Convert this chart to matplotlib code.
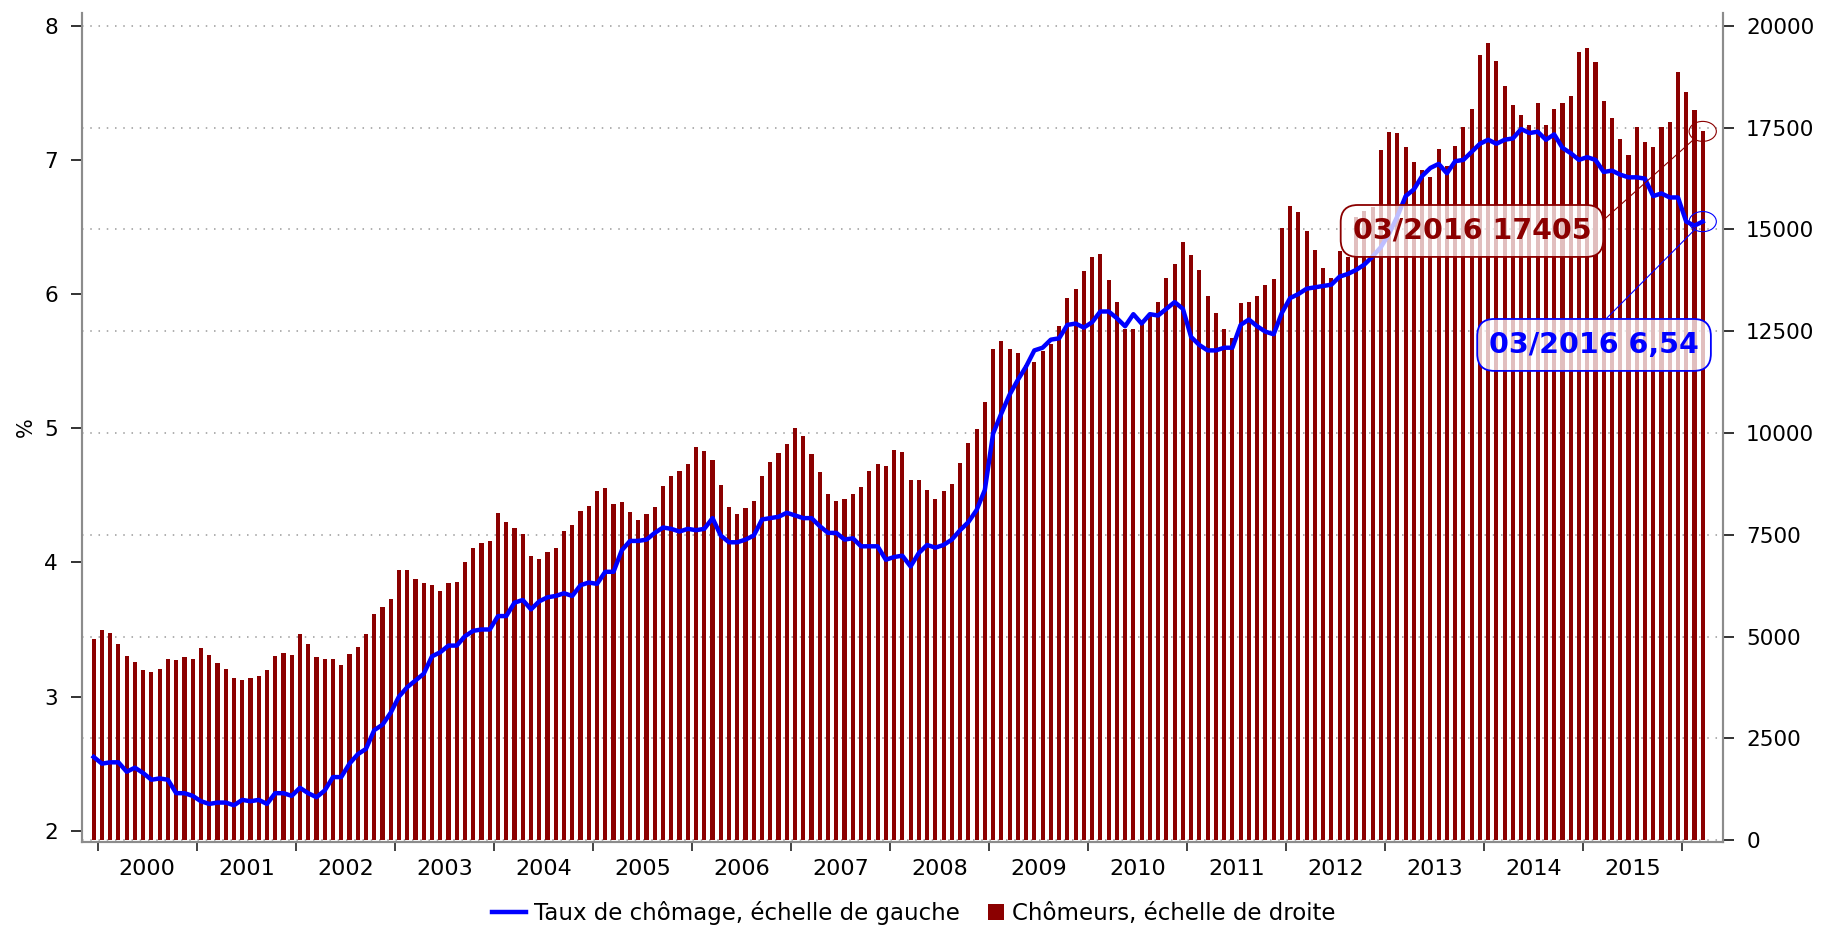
import matplotlib
matplotlib.use('Agg')
import matplotlib.pyplot as plt
import numpy as np
import pandas as pd
from matplotlib.lines import Line2D
from matplotlib.patches import Patch, Rectangle, Ellipse
from matplotlib.legend_handler import HandlerPatch

# monthly data, Dec 1999 -> Mar 2016
months = pd.period_range('1999-12', '2016-03', freq='M')

# Chômeurs (right axis)
chomeurs = [
    4942, 5163, 5082, 4827, 4517, 4377, 4181, 4139, 4205, 4443, 4419, 4493,
    4459, 4721, 4557, 4345, 4198, 3977, 3935, 3977, 4034, 4173, 4533, 4607,
    4557, 5073, 4819, 4493, 4443, 4443, 4312, 4574, 4746, 5057, 5564, 5736,
    5933, 6628, 6628, 6415, 6309, 6268, 6113, 6309, 6342, 6832, 7176, 7291,
    7340, 8028, 7822, 7667, 7528, 6980, 6898, 7086, 7168, 7593, 7749, 8084,
    8215, 8575, 8641, 8256, 8305, 8068, 7871, 8003, 8190, 8698, 8936, 9066,
    9238, 9663, 9550, 9329, 8715, 8183, 8011, 8151, 8322, 8944, 9287, 9501,
    9729, 10115, 9926, 9484, 9042, 8502, 8337, 8379, 8509, 8674, 9074, 9231,
    9189, 9582, 9533, 8853, 8853, 8593, 8379, 8575, 8740, 9255, 9746, 10097,
    10768, 12061, 12266, 12054, 11956, 11669, 11742, 12012, 12177, 12634, 13306, 13534,
    13976, 14327, 14386, 13748, 13208, 12552, 12560, 12692, 12938, 13215, 13797, 14148,
    14681, 14362, 14001, 13370, 12945, 12552, 12324, 13191, 13215, 13363, 13633, 13780,
    15025, 15565, 15417, 14958, 14485, 14050, 13804, 14460, 14327, 15300, 15450, 15560,
    16954, 17396, 17357, 17020, 16645, 16456, 16284, 16979, 16562, 17052, 17512, 17961,
    19279, 19566, 19139, 18525, 18052, 17799, 17568, 18093, 17561, 17946, 18108, 18265,
    19353, 19458, 19100, 18142, 17725, 17217, 16824, 17519, 17143, 17020, 17519, 17634,
    18862, 18363, 17936, 17405,
]

# Taux de chômage (left axis)
taux = [
    2.55, 2.50, 2.51, 2.51, 2.44, 2.47, 2.43, 2.38, 2.39, 2.38, 2.28, 2.28,
    2.26, 2.22, 2.20, 2.21, 2.21, 2.19, 2.23, 2.22, 2.23, 2.20, 2.28, 2.28,
    2.26, 2.32, 2.28, 2.25, 2.30, 2.40, 2.40, 2.50, 2.57, 2.61, 2.75, 2.79,
    2.88, 3.00, 3.07, 3.12, 3.17, 3.30, 3.33, 3.38, 3.38, 3.45, 3.49, 3.50,
    3.50, 3.60, 3.60, 3.70, 3.72, 3.65, 3.71, 3.74, 3.75, 3.77, 3.75, 3.83,
    3.85, 3.84, 3.93, 3.93, 4.09, 4.16, 4.16, 4.17, 4.22, 4.26, 4.25, 4.23,
    4.25, 4.24, 4.25, 4.33, 4.20, 4.15, 4.15, 4.17, 4.20, 4.32, 4.33, 4.34,
    4.37, 4.35, 4.33, 4.33, 4.27, 4.22, 4.22, 4.17, 4.18, 4.12, 4.12, 4.12,
    4.02, 4.04, 4.05, 3.97, 4.07, 4.13, 4.11, 4.13, 4.17, 4.24, 4.30, 4.39,
    4.54, 4.96, 5.11, 5.25, 5.36, 5.46, 5.58, 5.60, 5.66, 5.67, 5.77, 5.78,
    5.75, 5.79, 5.87, 5.87, 5.82, 5.76, 5.85, 5.78, 5.85, 5.84, 5.89, 5.94,
    5.89, 5.68, 5.62, 5.58, 5.58, 5.60, 5.60, 5.77, 5.81, 5.76, 5.72, 5.70,
    5.86, 5.97, 6.00, 6.04, 6.05, 6.06, 6.07, 6.13, 6.15, 6.18, 6.22, 6.28,
    6.35, 6.45, 6.58, 6.73, 6.78, 6.88, 6.94, 6.97, 6.90, 6.99, 7.00, 7.06,
    7.12, 7.15, 7.12, 7.15, 7.16, 7.23, 7.20, 7.21, 7.15, 7.19, 7.09, 7.05,
    7.00, 7.02, 7.00, 6.91, 6.92, 6.89, 6.87, 6.87, 6.86, 6.73, 6.75, 6.72,
    6.72, 6.54, 6.51, 6.54,
]

RED = '#8b0000'
BLUE = '#0000ff'
GREY = '#8c8c8c'


class SquareHandler(HandlerPatch):
    # square drawn at the right end of the handle box
    def create_artists(self, legend, orig_handle, xdescent, ydescent,
                       width, height, fontsize, trans):
        s = height * 1.0
        p = Rectangle((-xdescent + width - s, -ydescent + (height - s) / 2), s, s,
                      facecolor=orig_handle.get_facecolor(), edgecolor='none',
                      transform=trans)
        return [p]


x = np.arange(len(months))

fig = plt.figure(figsize=(18.21, 9.26), dpi=100)
ax = fig.add_axes([0.04487, 0.0904, 0.90105, 0.8959])

# bars on the right-hand scale
ax.bar(x, chomeurs, width=0.5, color=RED, zorder=2)
ax.set_axisbelow(True)
ax.grid(axis='y', color='#9a9a9a', linestyle=(0, (1, 4.4)), linewidth=1.1)

ax2 = ax.twinx()
ax.yaxis.tick_right()
ax2.yaxis.tick_left()
ax2.yaxis.set_label_position('left')

# line on the left-hand scale
ax2.plot(x, taux, color=BLUE, lw=3.2, solid_joinstyle='round', zorder=3)

ax.set_xlim(-1.45, 197.4)
ax.set_ylim(-49, 20319)
ax2.set_ylim(1.914, 8.097)
ax.set_yticks(np.arange(0, 20001, 2500))
ax2.set_yticks(np.arange(2, 9))
ax2.set_ylabel('%', fontsize=15, labelpad=6)

# year boundaries as ticks, year names centred in between
jan = [i for i, m in enumerate(months) if m.month == 1]
ax.set_xticks([i - 0.5 for i in jan])
ax.set_xticklabels([])
full_years = [i for i in jan if i + 11 < len(months)]
ax.set_xticks([i + 5.5 for i in full_years], minor=True)
ax.set_xticklabels([str(months[i].year) for i in full_years], minor=True)
ax.tick_params(axis='x', which='major', length=6.5, width=1.3, color='#333333')
ax.tick_params(axis='x', which='minor', length=0, pad=12, labelsize=16)
ax.tick_params(axis='y', length=8, width=1.3, color='#222222', pad=9, labelsize=15.5)
ax2.tick_params(axis='y', length=8, width=1.3, color='#222222', pad=9, labelsize=15.5)

for a in (ax, ax2):
    a.spines['top'].set_visible(False)
    for s in ('left', 'right', 'bottom'):
        a.spines[s].set_color(GREY)
        a.spines[s].set_linewidth(1.5)

# last-value call-outs
last = len(months) - 1
date_lbl = months[last].strftime('%m/%Y')

ax2.add_patch(Ellipse((x[last], chomeurs[last]), 3.3, 490, transform=ax.transData,
                      facecolor='none', edgecolor=RED, lw=0.8, zorder=5))
ax2.add_patch(Ellipse((x[last], taux[last]), 3.3, 0.15,
                      facecolor='none', edgecolor=BLUE, lw=0.8, zorder=5))

ax2.annotate(f'{date_lbl} {chomeurs[last]}', xy=(x[last], chomeurs[last]),
             xycoords=ax.transData, xytext=(0.8473, 0.7369), textcoords='axes fraction',
             ha='center', va='center', fontsize=20.5, fontweight='bold', color=RED,
             bbox=dict(boxstyle='round,pad=0.42,rounding_size=0.6', fc=(1, 1, 1, 0.75),
                       ec=RED, lw=1.3),
             arrowprops=dict(arrowstyle='-', color=RED, lw=0.8, relpos=(1, 0.5),
                             shrinkA=0, shrinkB=7), zorder=6)

ax2.annotate(f'{date_lbl} {taux[last]:.2f}'.replace('.', ','), xy=(x[last], taux[last]),
             xytext=(0.9217, 0.5995), textcoords='axes fraction',
             ha='center', va='center', fontsize=20.5, fontweight='bold', color=BLUE,
             bbox=dict(boxstyle='round,pad=0.42,rounding_size=0.6', fc=(1, 1, 1, 0.75),
                       ec=BLUE, lw=1.3),
             arrowprops=dict(arrowstyle='-', color=BLUE, lw=0.8, relpos=(0.5, 1),
                             shrinkA=0, shrinkB=7), zorder=6)

handles = [Line2D([], [], color=BLUE, lw=3.2),
           Patch(facecolor=RED)]
fig.legend(handles, ['Taux de chômage, échelle de gauche', 'Chômeurs, échelle de droite'],
           loc='center', bbox_to_anchor=(0.5016, 0.014), ncol=2, frameon=False,
           fontsize=16.5, handlelength=1.5, handletextpad=0.35, columnspacing=0.4,
           handler_map={Patch: SquareHandler()})

fig.savefig('out.png', dpi=100)
